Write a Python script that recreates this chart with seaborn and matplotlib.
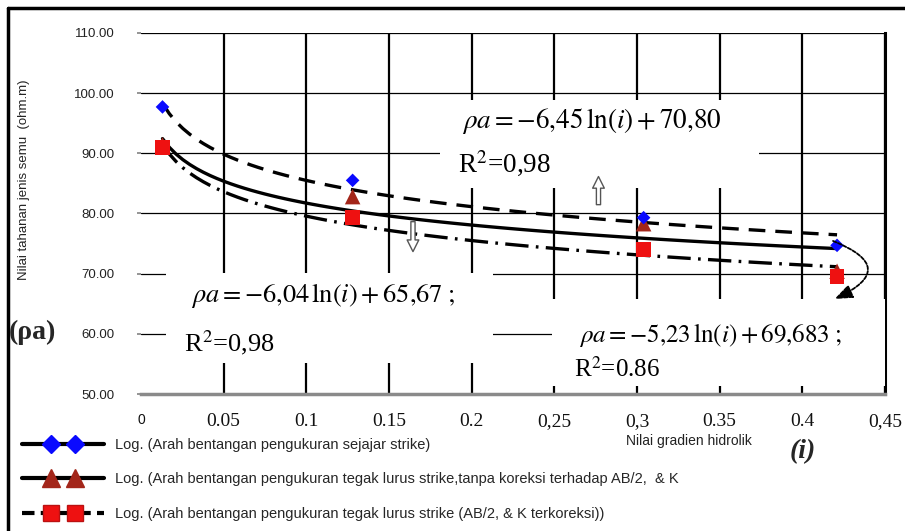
import matplotlib
matplotlib.use("Agg")
import numpy as np
import pandas as pd
import matplotlib.pyplot as plt
import seaborn as sns
from matplotlib.lines import Line2D
from matplotlib.patches import Rectangle
from matplotlib.legend_handler import HandlerLine2D, HandlerTuple

# Values
gradien = [0.013, 0.128, 0.304, 0.421]
rho_sejajar = [97.7, 85.5, 79.3, 74.7]
rho_tegak = [91.4, 82.8, 78.3, 70.4]
rho_koreksi = [91.0, 79.3, 74.0, 69.5]

y_ticks = [50, 60, 70, 80, 90, 100, 110]
x_ticks = [0, 0.05, 0.1, 0.15, 0.2, 0.25, 0.3, 0.35, 0.4, 0.45]
x_ticklabels = ["0", "0.05", "0.1", "0.15", "0.2", "0,25", "0,3", "0.35", "0.4", "0,45"]

legend_labels = [
    "Log. (Arah bentangan pengukuran sejajar strike)",
    "Log. (Arah bentangan pengukuran tegak lurus strike,tanpa koreksi terhadap AB/2,  & K",
    "Log. (Arah bentangan pengukuran tegak lurus strike (AB/2, & K terkoreksi))",
]

# Long table for seaborn (triangles first so they sit under the others)
df = pd.DataFrame({
    "i": gradien * 3,
    "rho": rho_tegak + rho_sejajar + rho_koreksi,
    "seri": ["tegak"] * 4 + ["sejajar"] * 4 + ["koreksi"] * 4,
})

colors = {"sejajar": "#0a0aff", "tegak": "#a3261a", "koreksi": "#ee1111"}
markers = {"sejajar": "D", "tegak": "^", "koreksi": "s"}
sizes = {"sejajar": 48, "tegak": 125, "koreksi": 110}
line_styles = {"sejajar": (0, (5, 3)), "tegak": "-", "koreksi": (0, (7, 2.2, 0.8, 2.2))}

sns.set_theme(style="white")
plt.rcParams["font.family"] = ["Liberation Sans", "DejaVu Sans"]
plt.rcParams["mathtext.fontset"] = "stix"

fig = plt.figure(figsize=(9.05, 5.31), dpi=100)
ax = fig.add_axes([0.1558, 0.258, 0.8221, 0.680])

# Logarithmic trendlines (y ~ ln(x)) fitted by seaborn
for seri in ["sejajar", "tegak", "koreksi"]:
    sns.regplot(data=df[df["seri"] == seri], x="i", y="rho", logx=True, scatter=False, ci=None, ax=ax,
                line_kws=dict(color="black", lw=2.4, ls=line_styles[seri], zorder=3))

sns.scatterplot(data=df, x="i", y="rho", hue="seri", style="seri", size="seri", palette=colors, markers=markers,
                sizes=sizes, linewidth=0, legend=False, ax=ax, zorder=4)

ax.set_xlim(0, 0.45)
ax.set_ylim(50, 110)
ax.set_yticks(y_ticks)
ax.set_yticklabels([f"{v:.2f}" for v in y_ticks], fontsize=9.5, color="#222222")
ax.set_xticks(x_ticks)
ax.set_xticklabels(x_ticklabels, fontsize=14, family="Liberation Serif", color="#111111")
ax.get_xticklabels()[0].set_fontfamily("Liberation Sans")
ax.get_xticklabels()[0].set_fontsize(10)
ax.tick_params(axis="y", left=True, length=3, color="#888888", pad=16)
ax.tick_params(axis="x", bottom=False, pad=8)

for x in x_ticks[1:]:
    ax.axvline(x, color="black", lw=1.6, zorder=1)
for y in y_ticks[1:]:
    ax.axhline(y, color="black", lw=0.9, zorder=1)

ax.spines["left"].set_visible(False)
ax.spines["top"].set_visible(False)
ax.spines["right"].set_color("black")
ax.spines["right"].set_linewidth(2.2)
ax.spines["bottom"].set_color("#8a8a8a")
ax.spines["bottom"].set_linewidth(2.5)

ax.set_xlabel("")
ax.set_ylabel("Nilai tahanan jenis semu  (ohm.m)", fontsize=9.5, color="#222222")
ax.yaxis.set_label_coords(-0.149, 0.593)

# White boxes behind the equations
for x0, y0, w, h in [(0.181, 84.2, 0.193, 14.7), (0.0151, 55.2, 0.198, 14.9), (0.2486, 51.3, 0.2014, 14.5)]:
    ax.add_patch(Rectangle((x0, y0), w, h, facecolor="white", edgecolor="none", zorder=5))

eq_kw = dict(family="Liberation Serif", color="black", zorder=6, va="center", ha="left")
ax.text(0.194, 95.3, r"$\rho a = -6{,}45\,\ln(i) + 70{,}80$", fontsize=19.5, **eq_kw)
ax.text(0.192, 88.2, r"R$^2$=0,98", fontsize=19.5, **eq_kw)
ax.text(0.030, 66.4, r"$\rho a = -6{,}04\,\ln(i) + 65{,}67\;;$", fontsize=19, **eq_kw)
ax.text(0.026, 58.5, r"R$^2$=0,98", fontsize=19, **eq_kw)
ax.text(0.265, 59.8, r"$\rho a = -5{,}23\,\ln(i) + 69{,}683\;;$", fontsize=18, **eq_kw)
ax.text(0.262, 54.1, r"R$^2$=0.86", fontsize=18, **eq_kw)

# Hollow arrows
hollow = dict(arrowstyle="simple,head_width=0.7,head_length=0.7,tail_width=0.25", fc="white", ec="#555555", lw=1)
ax.annotate("", xy=(0.2767, 86.6), xytext=(0.2767, 81.0), arrowprops=hollow, zorder=6)
ax.annotate("", xy=(0.1645, 73.2), xytext=(0.1645, 79.1), arrowprops=hollow, zorder=6)
ax.annotate("", xy=(0.418, 65.6), xytext=(0.417, 75.6),
            arrowprops=dict(arrowstyle="-|>,head_width=0.35,head_length=0.9", color="black", lw=1.3,
                            ls=(0, (2, 1)), connectionstyle="arc3,rad=-1.2"), zorder=7)

# Labels outside the plot
fig.text(9 / 905, 1 - 332 / 531, "(ρa)", fontsize=20, fontweight="bold", family="Liberation Serif", va="center")
fig.text(790 / 905, 1 - 452 / 531, "(i)", fontsize=20, fontweight="bold", fontstyle="italic",
         family="Liberation Serif", va="center")
fig.text(626 / 905, 1 - 441 / 531, "Nilai gradien hidrolik", fontsize=10, color="#222222", va="center")

# Legend: full-width line with two inset markers
lines = [Line2D([], [], color="black", lw=3, ls=ls) for ls in ["-", "-", (0, (3, 1.5))]]
points = [
    Line2D([], [], ls="none", marker="D", ms=9, mfc=colors["sejajar"], mec=colors["sejajar"]),
    Line2D([], [], ls="none", marker="^", ms=13, mfc=colors["tegak"], mec=colors["tegak"]),
    Line2D([], [], ls="none", marker="s", ms=12, mfc=colors["koreksi"], mec="#bb1111"),
]
hmap = {l: HandlerLine2D(numpoints=2, marker_pad=0) for l in lines}
hmap.update({p: HandlerLine2D(numpoints=2, marker_pad=2.0) for p in points})
hmap[tuple] = HandlerTuple(ndivide=1, pad=0)
fig.legend(list(zip(lines, points)), legend_labels, loc="upper left", bbox_to_anchor=(22 / 905, 1 - 438 / 531),
           frameon=False, fontsize=10.5, handlelength=5.6, handletextpad=0.8, labelspacing=1.4, borderpad=0,
           borderaxespad=0, handler_map=hmap)

# Outer frame (left and top)
fig.add_artist(Line2D([8 / 905, 8 / 905], [0, 1 - 8 / 531], color="black", lw=2.5, transform=fig.transFigure))
fig.add_artist(Line2D([8 / 905, 1], [1 - 8 / 531, 1 - 8 / 531], color="black", lw=2.5, transform=fig.transFigure))

fig.savefig("out.png", dpi=100)
